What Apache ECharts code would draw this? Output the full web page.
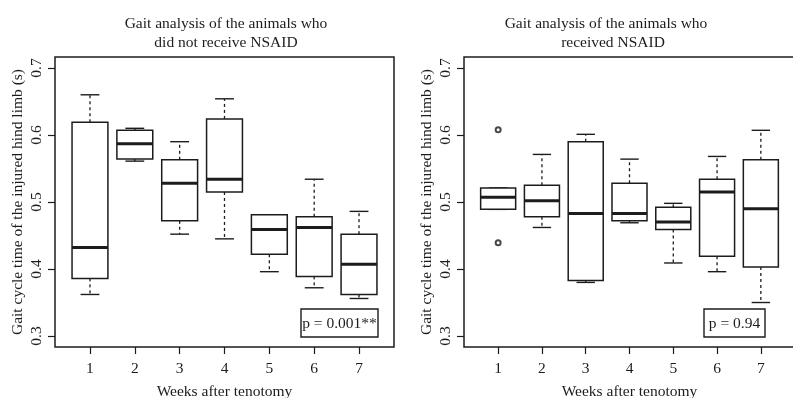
<!DOCTYPE html>
<html>
<head>
<meta charset="utf-8">
<script src="https://cdn.jsdelivr.net/npm/echarts@6/dist/echarts.min.js"></script>
<style>
  html, body { margin: 0; padding: 0; background: #fff; }
  #chart { width: 793px; height: 398px; }
</style>
</head>
<body>
<div id="chart"></div>
<script>
// weeks after tenotomy
const weeks = [1, 2, 3, 4, 5, 6, 7];
const yTicks = [0.3, 0.4, 0.5, 0.6, 0.7];

// animals without NSAID (whisker low, Q1, median, Q3, whisker high)
const noLow  = [0.362, 0.561, 0.452, 0.445, 0.396, 0.372, 0.356];
const noQ1   = [0.386, 0.564, 0.472, 0.515, 0.422, 0.389, 0.362];
const noMed  = [0.432, 0.587, 0.528, 0.534, 0.459, 0.462, 0.407];
const noQ3   = [0.619, 0.607, 0.563, 0.624, 0.481, 0.478, 0.452];
const noHigh = [0.660, 0.610, 0.590, 0.654, 0.481, 0.534, 0.486];

// animals with NSAID
const yesLow  = [0.489, 0.462, 0.380, 0.469, 0.409, 0.396, 0.350];
const yesQ1   = [0.489, 0.478, 0.383, 0.472, 0.459, 0.419, 0.403];
const yesMed  = [0.507, 0.502, 0.483, 0.483, 0.470, 0.515, 0.490];
const yesQ3   = [0.521, 0.525, 0.590, 0.528, 0.492, 0.534, 0.563];
const yesHigh = [0.521, 0.571, 0.601, 0.564, 0.498, 0.568, 0.607];
const yesOutWeek = [1, 1];
const yesOutVal  = [0.608, 0.439];

const pLeft = 'p = 0.001**';
const pRight = 'p = 0.94';

const FONT = 'Liberation Serif';
const INK = '#1c1c1c';

const chart = echarts.init(document.getElementById('chart'));

function boxData(low, q1, med, q3, high) {
    return weeks.map((w, i) => [w, low[i], q1[i], med[i], q3[i], high[i]]);
}

function renderBox(params, api) {
    const x = api.value(0);
    const low = api.value(1), q1 = api.value(2), med = api.value(3), q3 = api.value(4), high = api.value(5);
    const half = 0.4, cap = 0.21;
    const tl = api.coord([x - half, q3]);
    const br = api.coord([x + half, q1]);
    const mid = api.coord([x, q3])[0];
    const yHigh = api.coord([x, high])[1];
    const yLow = api.coord([x, low])[1];
    const yMed = api.coord([x, med])[1];
    const capL = api.coord([x - cap, high])[0];
    const capR = api.coord([x + cap, high])[0];
    const solid = { stroke: INK, lineWidth: 1.4 };
    const dashed = { stroke: INK, lineWidth: 1.3, lineDash: [3, 3] };
    return {
        type: 'group',
        children: [
            { type: 'line', shape: { x1: mid, y1: tl[1], x2: mid, y2: yHigh }, style: dashed },
            { type: 'line', shape: { x1: mid, y1: br[1], x2: mid, y2: yLow }, style: dashed },
            { type: 'line', shape: { x1: capL, y1: yHigh, x2: capR, y2: yHigh }, style: solid },
            { type: 'line', shape: { x1: capL, y1: yLow, x2: capR, y2: yLow }, style: solid },
            { type: 'rect', shape: { x: tl[0], y: tl[1], width: br[0] - tl[0], height: br[1] - tl[1] },
              style: { fill: '#fff', stroke: INK, lineWidth: 1.5 } },
            { type: 'line', shape: { x1: tl[0], y1: yMed, x2: br[0], y2: yMed },
              style: { stroke: INK, lineWidth: 3 } }
        ]
    };
}

function xAxisFor(gridIndex) {
    return {
        type: 'value', gridIndex: gridIndex, min: 0.22, max: 7.78,
        name: 'Weeks after tenotomy', nameLocation: 'middle', nameGap: 37,
        nameTextStyle: { fontFamily: FONT, fontSize: 15.5, color: INK },
        axisLine: { show: false },
        splitLine: { show: false },
        axisTick: { show: true, length: 7, customValues: weeks, lineStyle: { color: INK, width: 1.2 } },
        axisLabel: { customValues: weeks, margin: 14, fontFamily: FONT, fontSize: 15.5, color: INK }
    };
}

function yAxisFor(gridIndex) {
    return {
        type: 'value', gridIndex: gridIndex, min: 0.2836, max: 0.7164,
        name: 'Gait cycle time of the injured hind limb (s)', nameLocation: 'middle', nameGap: 29,
        nameTextStyle: { fontFamily: FONT, fontSize: 15.5, color: INK },
        axisLine: { show: false },
        splitLine: { show: false },
        axisTick: { show: true, length: 7, customValues: yTicks, lineStyle: { color: INK, width: 1.2 } },
        axisLabel: { customValues: yTicks, rotate: 90, margin: 10, fontFamily: FONT, fontSize: 15.5, color: INK,
                     formatter: v => v.toFixed(1) }
    };
}

const gridStyle = { show: true, borderColor: INK, borderWidth: 1.5, backgroundColor: 'transparent',
                    outerBoundsMode: 'none', containLabel: false };

function pBox(x, y, w, h, text) {
    return {
        type: 'group', z: 10,
        children: [
            { type: 'rect', shape: { x: x, y: y, width: w, height: h },
              style: { fill: '#fff', stroke: INK, lineWidth: 1.4 } },
            { type: 'text', x: x + w / 2, y: y + h / 2 + 1,
              style: { text: text, fontFamily: FONT, fontSize: 15.5, fill: INK, align: 'center', verticalAlign: 'middle' } }
        ]
    };
}

chart.setOption({
    animation: false,
    backgroundColor: '#fff',
    title: [
        { text: 'Gait analysis of the animals who\ndid not receive NSAID', left: 221, top: 9, textAlign: 'center',
          textStyle: { fontFamily: FONT, fontSize: 15.5, fontWeight: 'normal', color: INK, lineHeight: 19.5 } },
        { text: 'Gait analysis of the animals who', left: 601, top: 9, textAlign: 'center',
          textStyle: { fontFamily: FONT, fontSize: 15.5, fontWeight: 'normal', color: INK, lineHeight: 19.5 } },
        { text: 'received NSAID', left: 608, top: 28.5, textAlign: 'center',
          textStyle: { fontFamily: FONT, fontSize: 15.5, fontWeight: 'normal', color: INK, lineHeight: 19.5 } }
    ],
    grid: [
        Object.assign({ left: 55, top: 57, width: 339, height: 290 }, gridStyle),
        Object.assign({ left: 464, top: 57, width: 331, height: 290 }, gridStyle)
    ],
    xAxis: [xAxisFor(0), xAxisFor(1)],
    yAxis: [yAxisFor(0), yAxisFor(1)],
    series: [
        { type: 'custom', xAxisIndex: 0, yAxisIndex: 0, renderItem: renderBox,
          encode: { x: 0, y: [1, 2, 3, 4, 5] }, data: boxData(noLow, noQ1, noMed, noQ3, noHigh) },
        { type: 'custom', xAxisIndex: 1, yAxisIndex: 1, renderItem: renderBox,
          encode: { x: 0, y: [1, 2, 3, 4, 5] }, data: boxData(yesLow, yesQ1, yesMed, yesQ3, yesHigh) },
        { type: 'scatter', xAxisIndex: 1, yAxisIndex: 1, symbol: 'emptyCircle', symbolSize: 5,
          itemStyle: { color: INK, borderWidth: 1 },
          data: yesOutWeek.map((w, i) => [w, yesOutVal[i]]) }
    ],
    graphic: [
        pBox(301, 309, 77, 28, pLeft),
        pBox(704, 309, 61, 28, pRight)
    ]
});
</script>
</body>
</html>
